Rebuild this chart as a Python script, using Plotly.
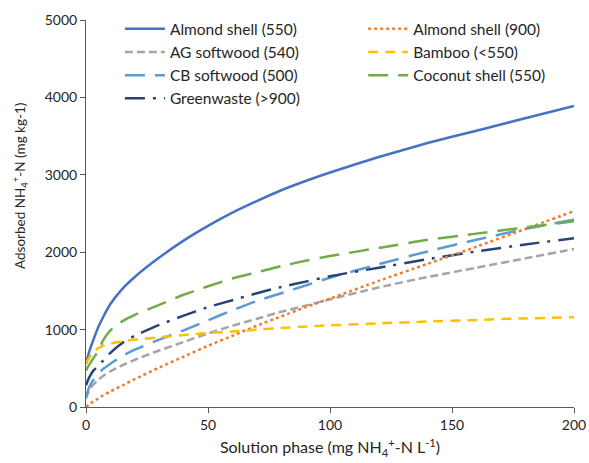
import plotly.graph_objects as go

x_vals = [0, 1, 2, 3, 5, 7, 10, 15, 20, 30, 40, 50, 60, 70, 80, 90, 100, 120, 140, 160, 180, 200]

almond_550 = [560, 680, 780, 866, 1030, 1160, 1330, 1530, 1680, 1930, 2150, 2340, 2510, 2660, 2800, 2920, 3030, 3230, 3410, 3570, 3730, 3890]
almond_900 = [0, 25, 50, 70, 110, 150, 200, 280, 360, 510, 650, 790, 920, 1050, 1170, 1290, 1400, 1630, 1850, 2070, 2300, 2530]
ag_softwood = [110, 190, 250, 290, 350, 400, 460, 540, 610, 730, 840, 950, 1050, 1140, 1230, 1310, 1390, 1545, 1680, 1800, 1920, 2040]
bamboo = [560, 620, 670, 710, 760, 790, 820, 850, 870, 900, 930, 955, 975, 1000, 1020, 1040, 1055, 1080, 1105, 1125, 1145, 1160]
cb_softwood = [130, 230, 300, 350, 430, 490, 560, 660, 740, 870, 990, 1120, 1250, 1370, 1470, 1570, 1670, 1845, 2010, 2160, 2300, 2420]
coconut = [470, 530, 580, 630, 720, 860, 990, 1110, 1190, 1320, 1450, 1560, 1660, 1740, 1820, 1890, 1950, 2055, 2160, 2240, 2320, 2400]
greenwaste = [280, 360, 420, 470, 530, 600, 700, 830, 920, 1060, 1180, 1290, 1380, 1470, 1550, 1620, 1690, 1800, 1910, 2010, 2100, 2180]

x_ticks = [0, 50, 100, 150, 200]
y_ticks = [0, 1000, 2000, 3000, 4000, 5000]

FONT = "Lato"
TXT = "#262626"

series = [
    ("Almond shell (550)", almond_550, "#4472C4", "solid", "legend"),
    ("AG softwood (540)", ag_softwood, "#A5A5A5", "8px,4px", "legend"),
    ("CB softwood (500)", cb_softwood, "#5B9BD5", "20px,10px", "legend"),
    ("Greenwaste (>900)", greenwaste, "#264478", "20px,8px,3px,8px", "legend"),
    ("Almond shell (900)", almond_900, "#ED7D31", "3px,3px", "legend2"),
    ("Bamboo (<550)", bamboo, "#FFC000", "10px,7px", "legend2"),
    ("Coconut shell (550)", coconut, "#70AD47", "20px,10px", "legend2"),
]

fig = go.Figure()
for name, ys, color, dash, leg in series:
    fig.add_trace(go.Scatter(
        x=x_vals, y=ys, name=name, mode="lines",
        line=dict(color=color, width=2.5, dash=dash, shape="spline", smoothing=0.6),
        legend=leg,
    ))

axis_common = dict(
    showgrid=False, zeroline=False, showline=True, linecolor="#595959", linewidth=1,
    ticks="outside", ticklen=5, tickcolor="#595959", automargin=False,
    tickfont=dict(family=FONT, size=14, color=TXT),
)

fig.update_layout(
    width=589, height=463,
    margin=dict(l=86, r=15, t=20, b=56, autoexpand=False),
    paper_bgcolor="white", plot_bgcolor="white",
    font=dict(family=FONT, size=15.5, color=TXT),
    xaxis=dict(range=[0, 200], tickvals=x_ticks,
               title=dict(text="Solution phase (mg NH<sub>4</sub><sup>+</sup>-N L<sup>-1</sup>)",
                          font=dict(family=FONT, size=16, color=TXT), standoff=10),
               **axis_common),
    yaxis=dict(range=[0, 5000], tickvals=y_ticks, **axis_common),
    annotations=[dict(
        text="Adsorbed NH<sub>4</sub><sup>+</sup>-N (mg kg-1)",
        textangle=-90, xref="paper", yref="paper",
        x=(20 - 86) / 488, y=(407 - 186) / 387, xanchor="center", yanchor="middle",
        showarrow=False, font=dict(family=FONT, size=13.5, color=TXT),
    )],
    legend=dict(x=0.0695, y=1.02, xanchor="left", yanchor="top", bgcolor="rgba(0,0,0,0)",
                font=dict(family=FONT, size=15.5, color=TXT), itemwidth=40),
    legend2=dict(x=0.568, y=1.02, xanchor="left", yanchor="top", bgcolor="rgba(0,0,0,0)",
                 font=dict(family=FONT, size=15.5, color=TXT), itemwidth=40),
)

fig.write_html("out.html")
